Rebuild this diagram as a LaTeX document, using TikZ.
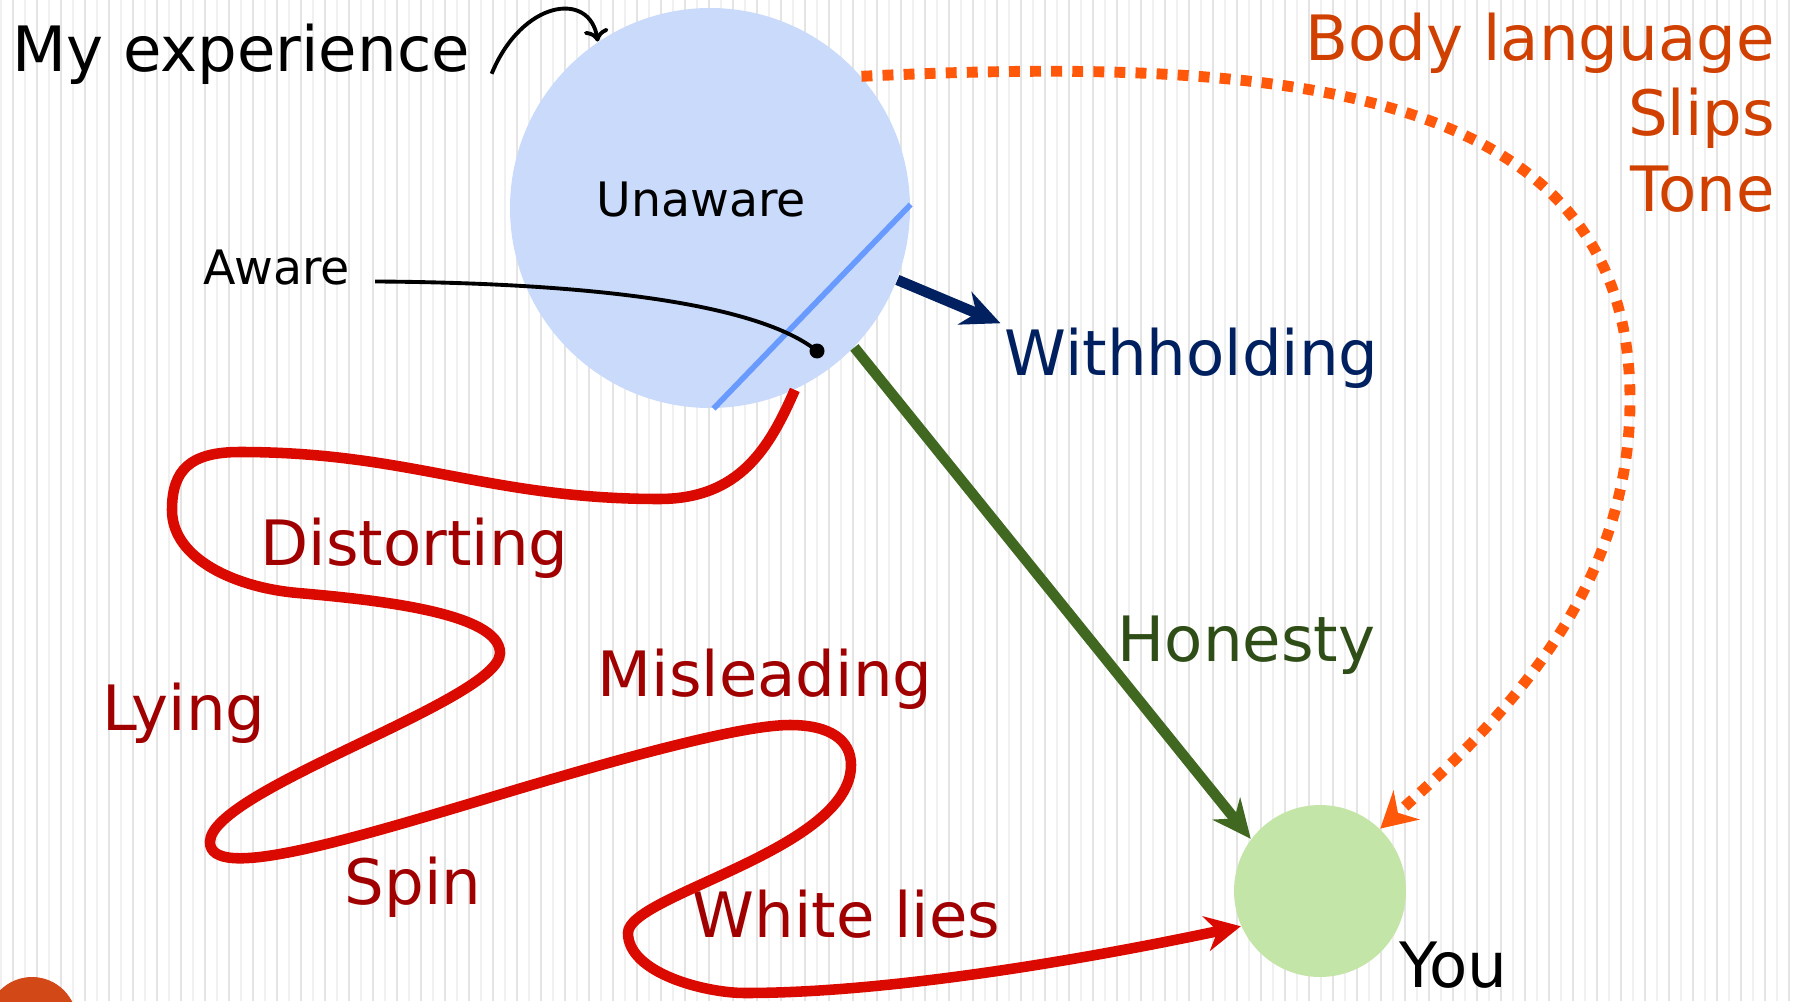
\documentclass[tikz,border=0pt]{standalone}
\usepackage{fontspec}
\setmainfont{DejaVu Sans}
\usetikzlibrary{arrows.meta}

\definecolor{unawareblue}{RGB}{201,218,250}
\definecolor{splitblue}{RGB}{105,155,255}
\definecolor{holdnavy}{RGB}{0,32,96}
\definecolor{honestline}{RGB}{64,104,32}
\definecolor{honesttext}{RGB}{47,77,22}
\definecolor{yougreen}{RGB}{196,229,168}
\definecolor{lieline}{RGB}{218,10,0}
\definecolor{lietext}{RGB}{160,0,0}
\definecolor{leakline}{RGB}{255,88,10}
\definecolor{leaktext}{RGB}{208,64,0}
\definecolor{slidedot}{RGB}{211,72,23}
\definecolor{stripedark}{RGB}{228,228,228}
\definecolor{stripelight}{RGB}{240,240,240}

\tikzset{
  bigtext/.style={font=\fontsize{17.8}{21.4}\selectfont, inner sep=1pt},
  smalltext/.style={font=\fontsize{13.5}{16}\selectfont, inner sep=1pt},
  lielabel/.style={bigtext, text=lietext, anchor=base west},
  bubble/.style={circle, inner sep=0pt},
  bigarrow/.style={-{Stealth[length=11pt,width=10pt]}}
}

\begin{document}
\begin{tikzpicture}
\useasboundingbox (0,0) rectangle (17.96,10.01);
% draw background stripes
\foreach \k in {0,...,74} {
  \draw[stripedark, line width=0.65pt] ({0.127+0.24*\k},0) -- ++(0,10.01);
  \draw[stripelight, line width=0.45pt] ({0.01+0.24*\k},0) -- ++(0,10.01);
}
\fill[slidedot] (0.32,-0.21) circle (0.45);

% draw the two circles
\node[bubble, fill=unawareblue, minimum size=4cm] (unaware) at (7.10,7.93) {};
\node[bubble, fill=yougreen, minimum size=1.72cm] (you) at (13.20,1.10) {};
\draw[splitblue, line width=1.6pt] (unaware.1) -- (unaware.-89);

% draw nodes for the labels
\node[bigtext, anchor=base west] (myexp) at (0.08,9.29) {My experience};
\node[smalltext, anchor=base] (unawaretext) at (7.01,7.84) {Unaware};
\node[smalltext, anchor=base west] (aware) at (1.995,7.16) {Aware};
\node[bigtext, anchor=base west, text=holdnavy] (withhold) at (10.005,6.26) {Withholding};
\node[bigtext, anchor=base west, text=honesttext] (honesty) at (11.135,3.40) {Honesty};
\node[bigtext, anchor=base west] (youtext) at (13.955,0.14) {You};
\node[bigtext, anchor=north east, align=right, text=leaktext] (leaks) at (17.79,9.92) {
  Body language \\
  Slips \\
  Tone
};
\node[lielabel] (distort) at (2.565,4.36) {Distorting};
\node[lielabel] (lying) at (0.985,2.71) {Lying};
\node[lielabel] (mislead) at (5.935,3.05) {Misleading};
\node[lielabel] (spin) at (3.405,0.97) {Spin};
\node[lielabel] (whitelies) at (6.885,0.64) {White lies};

% draw the pointers
\draw[line width=1.1pt, -{To[length=3.5pt,width=7pt]}] ([xshift=5pt,yshift=-0.5pt]myexp.base east)
  .. controls (5.22,10.01) and (5.90,10.11) .. (unaware.124);
\coordinate (awaredot) at (8.17,6.50);
\fill (awaredot) circle (0.075);
\draw[line width=1.1pt] ([xshift=6pt,yshift=1pt]aware.base east)
  .. controls (6.00,7.18) and (7.60,6.96) .. (awaredot);

% draw the ways to the other circle
\draw[holdnavy, line width=3pt, bigarrow] (unaware.-21) -- (withhold.north west);
\draw[honestline, line width=3pt, bigarrow] (unaware.-44) -- (you.143);
\draw[leakline, line width=3.1pt, dash pattern=on 3.1pt off 2.9pt, -{Stealth[length=10pt,width=11pt]}]
  (unaware.41) .. controls (13.00,9.46) and (16.30,9.11) .. (16.30,6.01)
  .. controls (16.30,4.01) and (14.90,2.71) .. (you.46);
\draw[lieline, line width=3pt, -{Stealth[length=10pt,width=10pt]}]
  (unaware.-65) .. controls (7.69,5.52) and (7.39,5.02) .. (6.59,5.02)
  .. controls (4.89,5.02) and (4.10,5.49) .. (2.40,5.49)
  .. controls (1.90,5.49) and (1.72,5.31) .. (1.72,4.91)
  .. controls (1.72,4.41) and (2.38,4.13) .. (2.98,4.08)
  .. controls (3.78,4.01) and (5.00,3.88) .. (5.00,3.48)
  .. controls (5.00,3.01) and (2.10,2.11) .. (2.10,1.59)
  .. controls (2.10,1.19) and (3.43,1.59) .. (5.15,2.11)
  .. controls (6.59,2.54) and (7.50,2.76) .. (7.90,2.76)
  .. controls (8.30,2.76) and (8.51,2.61) .. (8.51,2.36)
  .. controls (8.51,1.51) and (6.28,1.06) .. (6.28,0.68)
  .. controls (6.28,0.28) and (7.05,0.08) .. (7.45,0.08)
  .. controls (8.95,0.08) and (10.96,0.44) .. (you.-156);
\end{tikzpicture}
\end{document}
